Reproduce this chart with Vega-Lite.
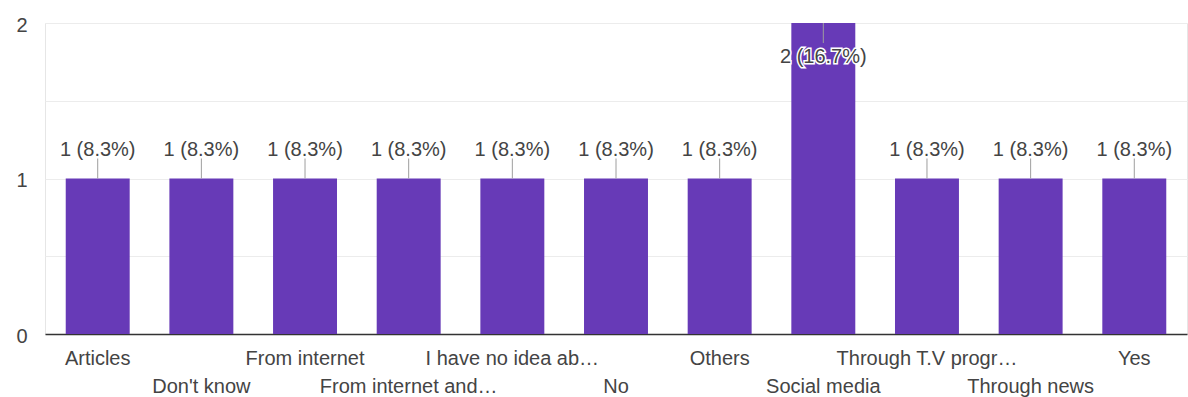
{
  "$schema": "https://vega.github.io/schema/vega-lite/v6.json",
  "autosize": "none",
  "width": 1142,
  "height": 311,
  "padding": {"left": 45, "top": 23, "right": 1, "bottom": 63},
  "background": "white",
  "config": {
    "view": {"stroke": "#e6e6e6", "strokeWidth": 1},
    "font": "Liberation Sans"
  },
  "data": {
    "values": [
      {"answer": "Articles", "count": 1, "label": "1 (8.3%)"},
      {"answer": "Don't know", "count": 1, "label": "1 (8.3%)"},
      {"answer": "From internet", "count": 1, "label": "1 (8.3%)"},
      {"answer": "From internet and…", "count": 1, "label": "1 (8.3%)"},
      {"answer": "I have no idea ab…", "count": 1, "label": "1 (8.3%)"},
      {"answer": "No", "count": 1, "label": "1 (8.3%)"},
      {"answer": "Others", "count": 1, "label": "1 (8.3%)"},
      {"answer": "Social media", "count": 2, "label": "2 (16.7%)"},
      {"answer": "Through T.V progr…", "count": 1, "label": "1 (8.3%)"},
      {"answer": "Through news", "count": 1, "label": "1 (8.3%)"},
      {"answer": "Yes", "count": 1, "label": "1 (8.3%)"}
    ]
  },
  "encoding": {
    "x": {
      "field": "answer",
      "type": "nominal",
      "sort": null,
      "scale": {"paddingInner": 0.383, "paddingOuter": 0.2},
      "axis": {
        "title": null,
        "labelAngle": 0,
        "labelFont": "Liberation Sans",
        "labelFontSize": 20,
        "labelColor": "#444444",
        "labelOverlap": false,
        "labelLimit": 0,
        "labelPadding": 14,
        "labelBaseline": "top",
        "labelLineHeight": 28,
        "ticks": false,
        "domainColor": "#333333",
        "domainWidth": 1.5,
        "labelExpr": "indexof([\"Don't know\", \"From internet and…\", \"No\", \"Social media\", \"Through news\"], datum.value) >= 0 ? ['', datum.label] : datum.label"
      }
    },
    "y": {
      "field": "count",
      "type": "quantitative",
      "scale": {"domain": [0, 2], "nice": false},
      "axis": {
        "title": null,
        "values": [0, 0.5, 1, 1.5, 2],
        "labelExpr": "datum.value % 1 == 0 ? format(datum.value, 'd') : ''",
        "labelFont": "Liberation Sans",
        "labelFontSize": 20,
        "labelColor": "#444444",
        "labelPadding": 18,
        "labelOffset": 2,
        "ticks": false,
        "domain": false,
        "gridColor": "#ececec",
        "gridWidth": 1
      }
    }
  },
  "layer": [
    {"mark": {"type": "bar", "color": "#673AB7"}},
    {
      "transform": [{"filter": "datum.count < 2"}],
      "mark": {"type": "rule", "color": "#9e9e9e", "strokeWidth": 1, "y2Offset": -20},
      "encoding": {"y2": {"field": "count"}}
    },
    {
      "transform": [{"filter": "datum.count >= 2"}],
      "mark": {"type": "rule", "color": "#9e9e9e", "strokeWidth": 1, "y2Offset": 20},
      "encoding": {"y2": {"field": "count"}}
    },
    {
      "transform": [{"filter": "datum.count < 2"}],
      "mark": {"type": "text", "font": "Liberation Sans", "fontSize": 20, "color": "#444444", "baseline": "alphabetic", "dy": -23},
      "encoding": {"text": {"field": "label"}}
    },
    {
      "transform": [{"filter": "datum.count >= 2"}],
      "mark": {"type": "text", "font": "Liberation Sans", "fontSize": 20, "fill": "white", "stroke": "white", "strokeWidth": 3, "baseline": "alphabetic", "dy": 40},
      "encoding": {"text": {"field": "label"}}
    },
    {
      "transform": [{"filter": "datum.count >= 2"}],
      "mark": {"type": "text", "font": "Liberation Sans", "fontSize": 20, "color": "#444444", "baseline": "alphabetic", "dy": 40},
      "encoding": {"text": {"field": "label"}}
    }
  ]
}
